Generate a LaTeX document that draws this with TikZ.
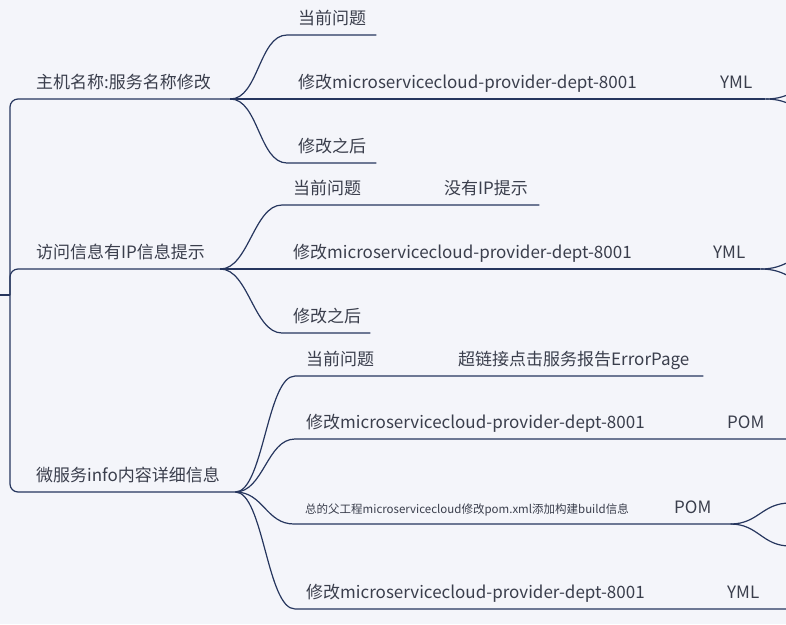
\documentclass[tikz,border=0pt]{standalone}
\usepackage{fontspec}
\setmainfont{Noto Sans CJK SC}
\usetikzlibrary{positioning,calc}
\definecolor{bg}{RGB}{244,245,250}
\definecolor{ink}{RGB}{38,54,94}
\definecolor{txt}{RGB}{58,62,76}
\hyphenpenalty=10000
\exhyphenpenalty=10000

\begin{document}
\begin{tikzpicture}[x=1pt,y=-1pt]
    \tikzset{topic/.style={anchor=south west, inner xsep=11pt, inner ysep=6pt,
        text depth=4pt, text width=#1, align=left, text=txt,
        font=\fontsize{17}{20}\selectfont},
      topic/.default=60pt,
      smalltopic/.style={topic=#1, font=\fontsize{11.5}{14}\selectfont},
      branch/.style={draw=ink, line width=1.2pt},
      curve/.style={branch, to path={.. controls +(28,0) and +(-28,0) .. (\tikztotarget)}}
    }

    \useasboundingbox (0,0) rectangle (786,624);
    \fill[bg] (0,0) rectangle (786,624);
    \clip (0,0) rectangle (786,624);

    \coordinate (root) at (0,295);
    \coordinate (hub) at (10,295);

    % main branches
    \node[topic=183pt] (A) at (25,99) {主机名称:服务名称修改};
    \node[topic=173pt] (B) at (25,269) {访问信息有IP信息提示};
    \node[topic=188pt] (C) at (25,492) {微服务info内容详细信息};

    % branch A
    \node[topic=67pt] (A1) at (287,35) {当前问题};
    \node[topic=340pt] (A2) at (287,99) {修改microservicecloud-provider-dept-8001};
    \node[topic=34pt] (A2y) at (709,99) {YML};
    \node[topic=67pt] (A3) at (287,163) {修改之后};

    % branch B
    \node[topic=131pt] (B1) at (282,205) {当前问题};
    \node[topic=84pt] (B1n) at (433,205) {没有IP提示};
    \node[topic=340pt] (B2) at (282,269) {修改microservicecloud-provider-dept-8001};
    \node[topic=36pt] (B2y) at (702,269) {YML};
    \node[topic=66pt] (B3) at (282,333) {修改之后};

    % branch C
    \node[topic=132pt] (C1) at (295,376) {当前问题};
    \node[topic=234pt] (C1n) at (447,376) {超链接点击服务报告ErrorPage};
    \node[topic=340pt] (C2) at (295,439) {修改microservicecloud-provider-dept-8001};
    \node[topic=40pt] (C2p) at (716,439) {POM};
    \node[smalltopic=330pt] (C3) at (294,524) {总的父工程microservicecloud修改pom.xml添加构建build信息};
    \node[topic=45pt] (C3p) at (663,524) {POM};
    \node[topic=340pt] (C4) at (295,609) {修改microservicecloud-provider-dept-8001};
    \node[topic=38pt] (C4y) at (716,609) {YML};

    % ends running out of the picture
    \coordinate (A2a) at (822,85);
    \coordinate (A2b) at (822,113);
    \coordinate (B2a) at (817,255);
    \coordinate (B2b) at (817,283);
    \coordinate (C2e) at (800,439);
    \coordinate (C3a) at (790,503);
    \coordinate (C3b) at (790,546);
    \coordinate (C4e) at (800,609);

    \draw[branch] (root) -- (hub);
    \draw[branch, rounded corners=8pt] (hub) |- (A.south east);
    \draw[branch, rounded corners=8pt] (hub) |- (B.south east);
    \draw[branch, rounded corners=8pt] (hub) |- (C.south east);

    \draw[curve] (A.south east) to (A1.south west) -- (A1.south east);
    \draw[branch] (A.south east) -- (A2.south west) -- (A2.south east) -- (A2y.south west) -- (A2y.south east);
    \draw[curve] (A.south east) to (A3.south west) -- (A3.south east);
    \draw[curve] (A2y.south east) to (A2a);
    \draw[curve] (A2y.south east) to (A2b);

    \draw[curve] (B.south east) to (B1.south west) -- (B1.south east) -- (B1n.south west) -- (B1n.south east);
    \draw[branch] (B.south east) -- (B2.south west) -- (B2.south east) -- (B2y.south west) -- (B2y.south east);
    \draw[curve] (B.south east) to (B3.south west) -- (B3.south east);
    \draw[curve] (B2y.south east) to (B2a);
    \draw[curve] (B2y.south east) to (B2b);

    \draw[curve] (C.south east) to (C1.south west) -- (C1.south east) -- (C1n.south west) -- (C1n.south east);
    \draw[curve] (C.south east) to (C2.south west) -- (C2.south east) -- (C2p.south west) -- (C2p.south east) -- (C2e);
    \draw[curve] (C.south east) to (C3.south west) -- (C3.south east) -- (C3p.south west) -- (C3p.south east);
    \draw[curve] (C.south east) to (C4.south west) -- (C4.south east) -- (C4y.south west) -- (C4y.south east) -- (C4e);
    \draw[curve] (C3p.south east) to (C3a);
    \draw[curve] (C3p.south east) to (C3b);
\end{tikzpicture}
\end{document}
